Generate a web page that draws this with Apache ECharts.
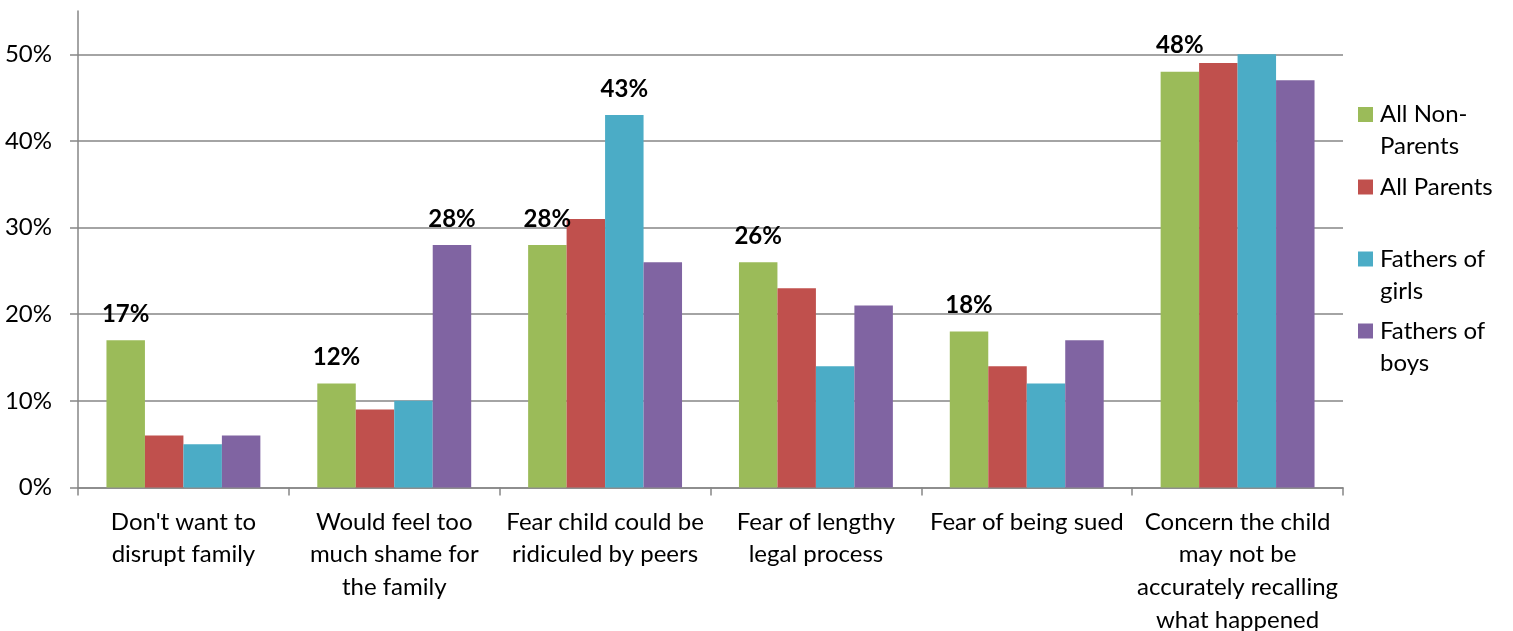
<!DOCTYPE html>
<html>
<head>
<meta charset="utf-8">
<script src="https://cdn.jsdelivr.net/npm/echarts@6/dist/echarts.min.js"></script>
<style>
html,body{margin:0;padding:0;background:#fff;}
#chart{width:1513px;height:631px;}
</style>
</head>
<body>
<div id="chart"></div>
<script>
// ---- data ----
const categories = [
  "Don't want to\ndisrupt family",
  "Would feel too\nmuch shame for\nthe family",
  "Fear child could be\nridiculed by peers",
  "Fear of lengthy\nlegal process",
  "Fear of being sued",
  "Concern the child\nmay not be\naccurately recalling\nwhat happened"
];
const seriesNames = ["All Non-Parents", "All Parents", "Fathers of girls", "Fathers of boys"];
const legendLabels = ["All Non-\nParents", "All Parents", "Fathers of\ngirls", "Fathers of\nboys"];
const allNonParents  = [17, 12, 28, 26, 18, 48];
const allParents     = [6, 9, 31, 23, 14, 49];
const fathersOfGirls = [5, 10, 43, 14, 12, 50];
const fathersOfBoys  = [6, 28, 26, 21, 17, 47];
// category indices whose value label is shown, per series
const labeledAllNonParents  = [0, 1, 2, 3, 4, 5];
const labeledAllParents     = [];
const labeledFathersOfGirls = [2];
const labeledFathersOfBoys  = [1];
const yTicks = [0, 10, 20, 30, 40, 50];

// ---- chart ----
const colors = ['#9BBB59', '#C0504D', '#4BACC6', '#8064A2'];
const values = [allNonParents, allParents, fathersOfGirls, fathersOfBoys];
const labeled = [labeledAllNonParents, labeledAllParents, labeledFathersOfGirls, labeledFathersOfBoys];
const FONT = 'Lato, "Open Sans", sans-serif';
const gray = '#868686';

const series = seriesNames.map((name, s) => ({
  name: name,
  type: 'bar',
  barGap: '0%',
  barCategoryGap: '27%',
  itemStyle: { color: colors[s] },
  label: {
    show: false,
    position: 'top',
    distance: 14,
    formatter: '{c}%',
    fontFamily: FONT,
    fontWeight: 'bold',
    fontSize: 24,
    color: '#000'
  },
  data: values[s].map((v, i) => labeled[s].indexOf(i) >= 0 ? { value: v, label: { show: true } } : v)
}));

const legendTops = [66.5, 171, 211, 283];
const legends = seriesNames.map((name, s) => {
  const twoLine = legendLabels[s].indexOf('\n') >= 0;
  return {
    show: true,
    orient: 'vertical',
    left: 1358,
    top: legendTops[s],
    padding: 0,
    itemWidth: 15,
    itemHeight: 15,
    icon: 'rect',
    selectedMode: false,
    data: [name],
    // a leading empty line keeps the first text line level with the icon
    formatter: () => (twoLine ? '\n' : '') + legendLabels[s],
    textStyle: {
      fontFamily: FONT,
      fontSize: 24,
      lineHeight: 32,
      color: '#000',
      padding: [0, 0, 0, 2]
    }
  };
});

const chart = echarts.init(document.getElementById('chart'));
chart.setOption({
  animation: false,
  backgroundColor: '#fff',
  color: colors,
  legend: legends,
  grid: { left: 78, right: 170, top: 11, bottom: 143.5, containLabel: false, outerBoundsMode: 'none' },
  xAxis: {
    type: 'category',
    data: categories,
    axisLine: { lineStyle: { color: gray, width: 1.5 } },
    axisTick: { show: true, length: 8, lineStyle: { color: gray, width: 1.5 } },
    axisLabel: {
      interval: 0,
      margin: 18,
      fontFamily: FONT,
      fontSize: 24,
      lineHeight: 32.7,
      color: '#000',
      align: 'center'
    },
    splitLine: { show: false }
  },
  yAxis: {
    type: 'value',
    min: 0,
    max: 55,
    interval: 10,
    axisLine: { show: true, lineStyle: { color: gray, width: 1.5 } },
    axisTick: { show: true, length: 8, customValues: yTicks, lineStyle: { color: gray, width: 1.5 } },
    axisLabel: {
      customValues: yTicks,
      margin: 26,
      formatter: '{value}%',
      fontFamily: FONT,
      fontSize: 24,
      color: '#000'
    },
    splitLine: { show: true, lineStyle: { color: gray, width: 1.5 } }
  },
  series: series
});
</script>
</body>
</html>
